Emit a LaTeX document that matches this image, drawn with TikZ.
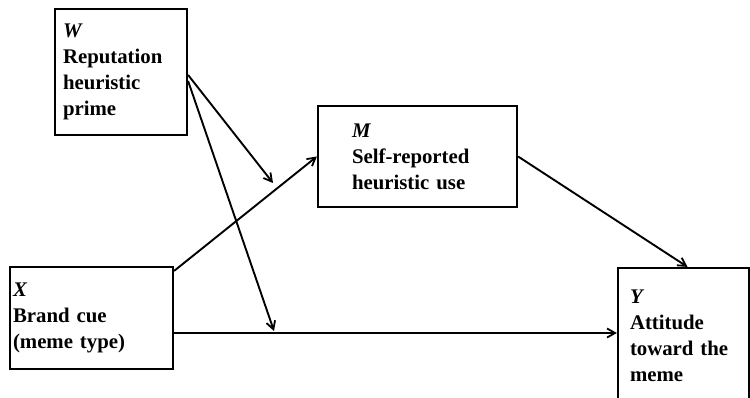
\documentclass[tikz,border=0pt]{standalone}
\usepackage{fontspec}
\setmainfont{Liberation Serif}
\usetikzlibrary{positioning,calc,arrows.meta}
\tikzset{
	%boxes of the model and the paths between them
	var/.style = {rectangle, draw=black, line width=2.2pt,
                           align=left, inner ysep=0pt,
                           font=\fontsize{20.8}{26}\selectfont\bfseries},
	fl/.style = {-{Straight Barb[length=8pt,width=9pt,line width=1.8pt]}, line width=1.9pt}
}
\begin{document}
\begin{tikzpicture}[x=1pt, y=1pt]
    	\useasboundingbox (0,0) rectangle (750,398);
    	%nodes
    	\node[var, minimum width=132, minimum height=126, text width=116, inner xsep=8] (W) at (121,326) {\textit{W}\\Reputation\\heuristic\\prime};
    	\node[var, minimum width=199, minimum height=101, text width=131, inner xsep=34] (M) at (417.5,241.5) {\textit{M}\\Self-reported\\heuristic use};
    	\node[var, minimum width=163, minimum height=102, text width=157, inner xsep=3] (X) at (91.5,80) {\textit{X}\\Brand cue\\(meme type)};
    	\node[var, minimum width=131, minimum height=135, text width=107, inner xsep=12] (Y) at (683.5,62.5) {\textit{Y}\\Attitude\\toward the\\meme};
    	%points on the paths
    	\coordinate (onXM) at (273,215);
    	\coordinate (onXY) at (274,67);
    	%arrows
    	\draw[fl] ([yshift=-3pt]W.east) -- (onXM);
    	\draw[fl] ([yshift=-9pt]W.east) -- (onXY);
    	\draw[fl] ([yshift=-5pt]X.north east) -- (M.west);
    	\draw[fl] ([yshift=-15pt]X.east) -- ([yshift=-15pt]X.east -| Y.west);
    	\draw[fl] (M.east) -- ([xshift=4pt]Y.north);
\end{tikzpicture}
\end{document}
